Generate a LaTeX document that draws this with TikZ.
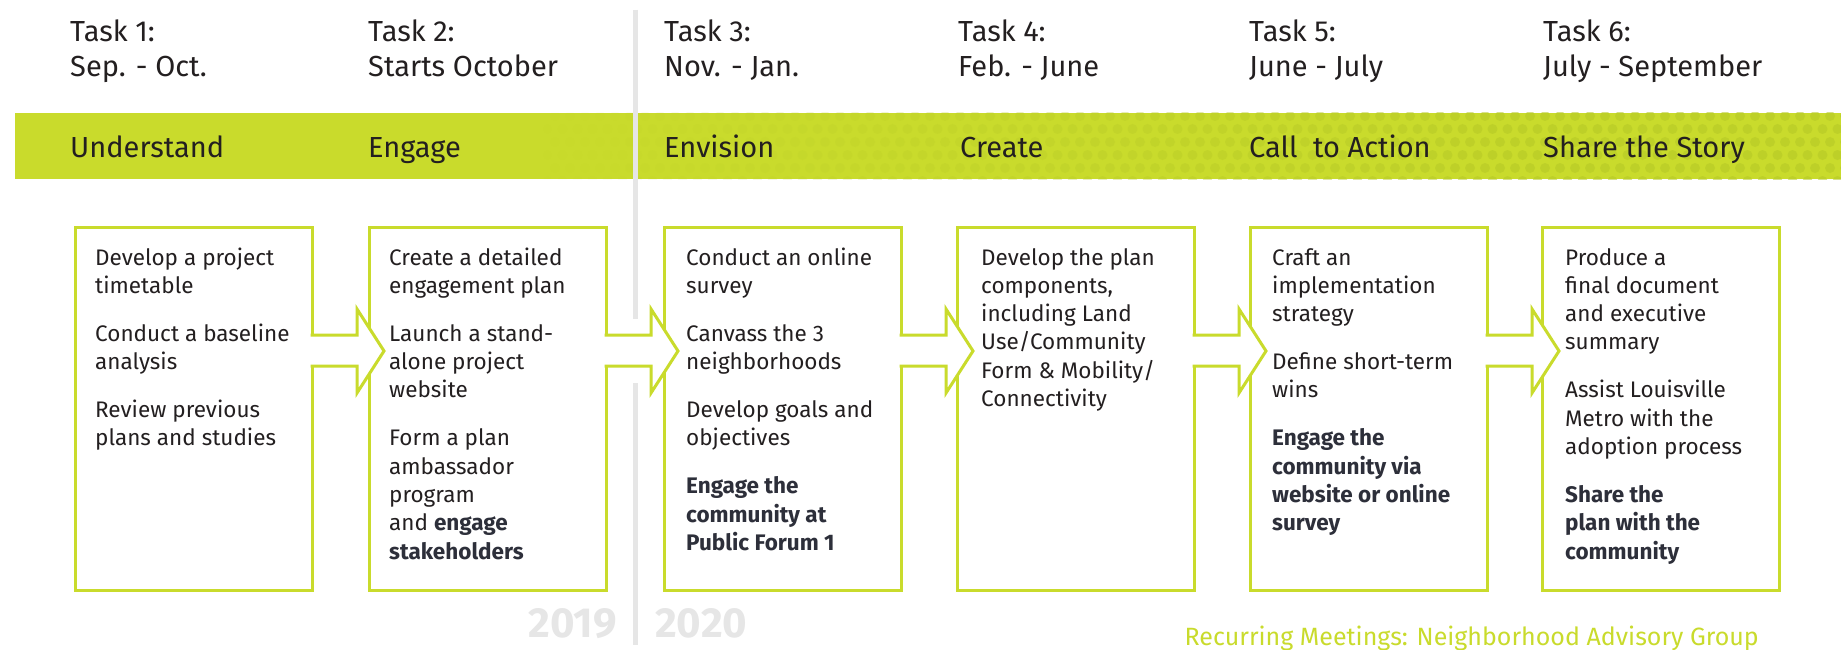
\documentclass[tikz,border=0pt]{standalone}
\usepackage{fontspec}
\setmainfont{Fira Sans}
\usetikzlibrary{calc}
\definecolor{lime}{HTML}{C9DB2C}
\definecolor{dotc}{HTML}{B4C726}
\definecolor{ink}{HTML}{231F20}
\definecolor{inkb}{HTML}{2D2F3A}
\definecolor{rulec}{HTML}{E6E6E6}
\newcommand{\hdrtext}[2]{\parbox[t]{280pt}{\fontsize{29}{34.5}\selectfont #1\\#2}}
\newcommand{\boxtext}[1]{\parbox[t]{214pt}{\fontsize{22.5}{28.3}\selectfont\raggedright\setlength{\parskip}{19.7pt}#1}}
\newcommand{\bt}[1]{{\bfseries\color{inkb}#1}}
\tikzset{
  hdr/.style={anchor=base west, inner sep=0pt, text=ink},
  barlbl/.style={anchor=base west, inner sep=0pt, text=ink, font=\fontsize{29}{34.5}\selectfont},
  taskbox/.style={anchor=north west, draw=lime, line width=3pt, inner sep=0pt, outer sep=0pt,
                  minimum width=237pt, minimum height=363pt},
  boxtxt/.style={anchor=base west, inner sep=0pt, text=ink},
  yearlbl/.style={inner sep=0pt, text=rulec, font=\fontsize{42}{42}\selectfont\bfseries},
  arrowline/.style={draw=lime, line width=3pt, line join=miter},
}
\newcommand{\taskarrow}[1]{%
  \fill[white] ($(#1.north east)+(-2,108)$) -- ++(47,0) -- ++(0,-26) -- ++(27,42)
     -- ++(-27,42) -- ++(0,-27) -- ++(-47,0) -- cycle;
  \draw[arrowline] ($(#1.north east)+(-1.5,108)$) -- ++(46.5,0) -- ++(0,-26) -- ++(27,42)
     -- ++(-27,42) -- ++(0,-27) -- ++(-46.5,0);
}
\begin{document}
\begin{tikzpicture}[x=1pt,y=-1pt]
\useasboundingbox (0,0) rectangle (1841,650);
\fill[white] (0,0) rectangle (1841,650);
% green bar with dot pattern
\fill[lime] (15,113) rectangle (1841,179);
\begin{scope}
\clip (15,113) rectangle (1841,179);
\foreach \i in {0,...,88}{
  \foreach \j in {0,...,5}{
    \pgfmathsetmacro{\xx}{540+15*\i+7.5*mod(\j,2)}
    \pgfmathsetmacro{\op}{min(1,max(0,(\xx-540)/1000))*0.55}
    \fill[dotc, fill opacity=\op] (\xx,{116+13*\j}) circle (5);
  }
}
\end{scope}
% year divider
\draw[rulec, line width=5pt] (635,10) -- (635,319);
\draw[rulec, line width=5pt] (635,383) -- (635,645);
% headers
\node[hdr] (h1) at (70,42) {\hdrtext{Task 1:}{Sep. - Oct.}};
\node[hdr] (h2) at (368,42) {\hdrtext{Task 2:}{Starts October}};
\node[hdr] (h3) at (664,42) {\hdrtext{Task 3:}{Nov. - Jan.}};
\node[hdr] (h4) at (958,42) {\hdrtext{Task 4:}{Feb. - June}};
\node[hdr] (h5) at (1249,42) {\hdrtext{Task 5:}{June - July}};
\node[hdr] (h6) at (1543,42) {\hdrtext{Task 6:}{July - September}};
% bar labels
\node[barlbl] (l1) at (70,157.5) {Understand};
\node[barlbl] (l2) at (368,157.5) {Engage};
\node[barlbl] (l3) at (664,157.5) {Envision};
\node[barlbl] (l4) at (960,157.5) {Create};
\node[barlbl] (l5) at (1249,157.5) {Call~ to Action};
\node[barlbl] (l6) at (1543,157.5) {Share the Story};
% boxes
\node[taskbox] (b1) at (75,227) {};
\node[taskbox] (b2) at (369,227) {};
\node[taskbox] (b3) at (664,227) {};
\node[taskbox] (b4) at (957,227) {};
\node[taskbox] (b5) at (1250,227) {};
\node[taskbox] (b6) at (1542,227) {};
% arrows
\taskarrow{b1}
\taskarrow{b2}
\taskarrow{b3}
\taskarrow{b4}
\taskarrow{b5}
% box texts
\node[boxtxt] (t1) at ($(b1.north west)+(20,38)$) {\boxtext{%
Develop a project\\timetable\par
Conduct a baseline\\analysis\par
Review previous\\plans and studies}};
\node[boxtxt] (t2) at ($(b2.north west)+(20,38)$) {\boxtext{%
Create a detailed\\engagement plan\par
Launch a stand-\\alone project\\website\par
Form a plan\\ambassador\\program\\and \bt{engage}\\\bt{stakeholders}}};
\node[boxtxt] (t3) at ($(b3.north west)+(22,38)$) {\boxtext{%
Conduct an online\\survey\par
Canvass the 3\\neighborhoods\par
Develop goals and\\objectives\par
\bt{Engage the\\community at\\Public Forum 1}}};
\node[boxtxt] (t4) at ($(b4.north west)+(24,38)$) {\boxtext{%
Develop the plan\\components,\\including Land\\Use/Community\\Form \& Mobility/\\Connectivity}};
\node[boxtxt] (t5) at ($(b5.north west)+(22,38)$) {\boxtext{%
Craft an\\implementation\\strategy\par
Define short-term\\wins\par
\bt{Engage the\\community via\\website or online\\survey}}};
\node[boxtxt] (t6) at ($(b6.north west)+(23,38)$) {\boxtext{%
Produce a\\final document\\and executive\\summary\par
Assist Louisville\\Metro with the\\adoption process\par
\bt{Share the\\plan with the\\community}}};
% years
\node[yearlbl, anchor=base east] (y19) at (617,637) {2019};
\node[yearlbl, anchor=base west] (y20) at (655,637) {2020};
% recurring meetings
\node[anchor=base east, inner sep=0pt, text=lime, font=\fontsize{25}{30}\selectfont] (rec) at (1759,645) {Recurring Meetings: Neighborhood Advisory Group};
\end{tikzpicture}
\end{document}
